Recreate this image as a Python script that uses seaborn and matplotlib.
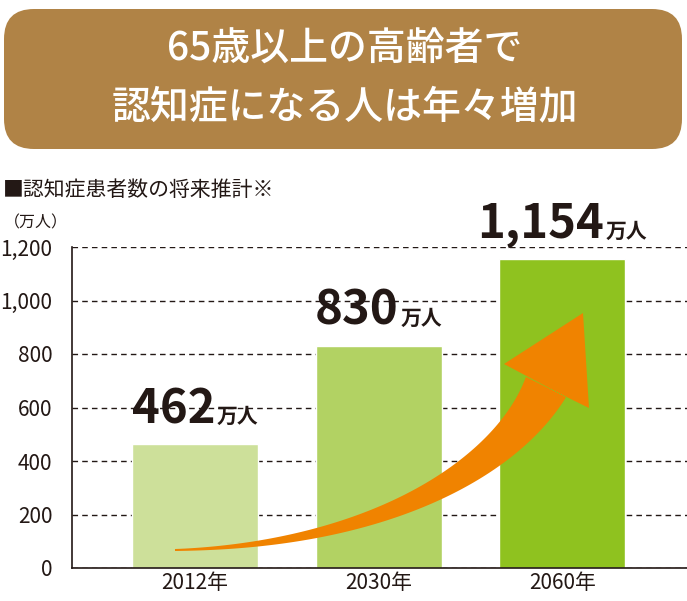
import numpy as np
import matplotlib
matplotlib.use("Agg")
import matplotlib.pyplot as plt
import matplotlib.transforms as mtransforms
from matplotlib.patches import FancyBboxPatch, Polygon
from matplotlib.offsetbox import TextArea, HPacker, AnnotationBbox
import seaborn as sns

# データ
years = ["2012年", "2030年", "2060年"]
patients = [462, 830, 1154]
labels = ["462", "830", "1,154"]
bar_colors = ["#cde09a", "#b2d263", "#8fc21f"]
yticks = [0, 200, 400, 600, 800, 1000, 1200]

sns.set_style("white")
plt.rcParams["font.family"] = ["Noto Sans CJK JP", "DejaVu Sans"]

W, H = 687, 601
fig = plt.figure(figsize=(W / 100, H / 100), dpi=100)
# ピクセル座標 (y下向き)
px = mtransforms.Affine2D().scale(1 / W, -1 / H).translate(0, 1) + fig.transFigure

ax = fig.add_axes([72 / W, 1 - 568 / H, 1 - 72 / W, (568 - 247) / H])

sns.barplot(x=years, y=patients, hue=years, palette=bar_colors, legend=False,
            width=0.687, saturation=1, ax=ax, zorder=2)

ax.set_xlim(-0.67, 2.68)
ax.set_ylim(0, 1200)
ax.set_yticks(yticks)
ax.set_yticklabels([f"{v:,}" for v in yticks], fontsize=15, color="#231815")
ax.tick_params(axis="x", labelsize=15, colors="#231815", length=0, pad=3)
ax.tick_params(axis="y", length=0, pad=14)
ax.set_xlabel("")
ax.set_ylabel("")
ax.yaxis.grid(True, linestyle=(0, (4, 3)), color="#231815", linewidth=1)
ax.set_axisbelow(True)
for s in ["top", "right"]:
    ax.spines[s].set_visible(False)
for s in ["left", "bottom"]:
    ax.spines[s].set_color("#231815")
    ax.spines[s].set_linewidth(1.2)

# 数値ラベル
for i, (v, lab) in enumerate(zip(patients, labels)):
    num = TextArea(lab, textprops=dict(fontsize=34, fontweight="bold", color="#231815"))
    unit = TextArea("万人", textprops=dict(fontsize=15, fontweight="bold", color="#231815"))
    box = HPacker(children=[num, unit], align="baseline", pad=0, sep=1)
    ab = AnnotationBbox(box, (i, v), xybox=(0, 8), xycoords="data",
                        boxcoords="offset points", box_alignment=(0.5, 0),
                        frameon=False, annotation_clip=False)
    ax.add_artist(ab)

# オレンジの矢印
P0, P1, P2, P3 = map(np.array, [(175, 550), (380, 545), (506, 467), (546, 387)])
t = np.linspace(0, 1, 120)[:, None]
c = (1 - t) ** 3 * P0 + 3 * (1 - t) ** 2 * t * P1 + 3 * (1 - t) * t ** 2 * P2 + t ** 3 * P3
d = 3 * (1 - t) ** 2 * (P1 - P0) + 6 * (1 - t) * t * (P2 - P1) + 3 * t ** 2 * (P3 - P2)
d = d / np.linalg.norm(d, axis=1, keepdims=True)
n = np.column_stack([-d[:, 1], d[:, 0]])
w = (1 + 21.5 * t[:, 0] ** 1.25)[:, None]
left = c - n * w
right = c + n * w
head = np.array([(504, 364), (583, 313), (589, 408)])
pts = np.vstack([right, head, left[::-1]])
ax.add_patch(Polygon(pts, closed=True, transform=px, facecolor="#f08300",
                     edgecolor="none", zorder=3, clip_on=False))

# タイトルボックス
fig.patches.append(FancyBboxPatch((4, 9), 678, 140, boxstyle="round,pad=0,rounding_size=30",
                                  transform=px, facecolor="#b08346", edgecolor="none"))
fig.text(345 / W, 1 - 50 / H, "65歳以上の高齢者で", ha="center", va="center",
         fontsize=28, color="white", fontweight="medium")
fig.text(345 / W, 1 - 107 / H, "認知症になる人は年々増加", ha="center", va="center",
         fontsize=28, color="white", fontweight="medium")

fig.text(3 / W, 1 - 190 / H, "■認知症患者数の将来推計※", ha="left", va="center",
         fontsize=15, color="#231815")
fig.text(4 / W, 1 - 223 / H, "（万人）", ha="left", va="center",
         fontsize=11.5, color="#231815")

fig.savefig("out.png", dpi=100)
